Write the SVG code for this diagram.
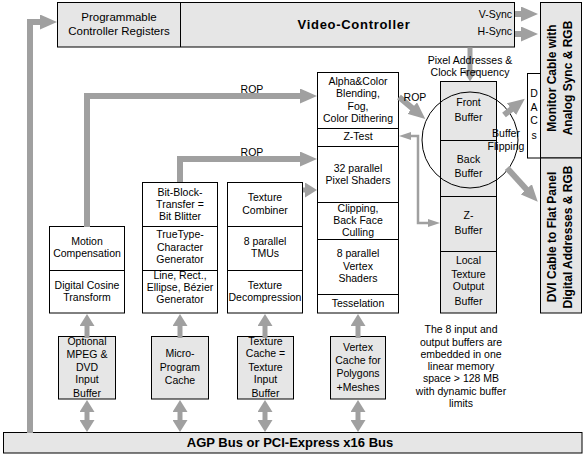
<svg xmlns="http://www.w3.org/2000/svg" width="584" height="456" viewBox="0 0 584 456">
<style>
.box{fill:#fff;stroke:#000;stroke-width:1}
.gbox{fill:#e6e6e6;stroke:#000;stroke-width:1}
.dv{stroke:#000;stroke-width:1;fill:none}
.t{font-family:"Liberation Sans",Arial,sans-serif;font-size:10.5px;text-anchor:middle;fill:#000}
.tl{font-family:"Liberation Sans",Arial,sans-serif;font-size:11.5px;text-anchor:middle;fill:#000}
.tr{font-family:"Liberation Sans",Arial,sans-serif;font-size:10.5px;text-anchor:end;fill:#000}
.b13{font-family:"Liberation Sans",Arial,sans-serif;font-size:13px;font-weight:bold;text-anchor:middle;fill:#000}
.rot{font-family:"Liberation Sans",Arial,sans-serif;font-size:12px;font-weight:bold;text-anchor:middle;fill:#000}
.a6{fill:none;stroke:#a0a0a0;stroke-width:6}
.a5{fill:none;stroke:#a0a0a0;stroke-width:5}
.a2{fill:none;stroke:#a0a0a0;stroke-width:2.5}
</style>
<defs>
<marker id="hh" markerUnits="userSpaceOnUse" markerWidth="17" markerHeight="15" viewBox="0 0 17 15" refX="1" refY="7.5" orient="auto-start-reverse"><path d="M0,0L17,7.5L0,15z" fill="#a0a0a0"/></marker>
<marker id="hv" markerUnits="userSpaceOnUse" markerWidth="12" markerHeight="15" viewBox="0 0 12 15" refX="1" refY="7.5" orient="auto-start-reverse"><path d="M0,0L12,7.5L0,15z" fill="#a0a0a0"/></marker>
<marker id="hs" markerUnits="userSpaceOnUse" markerWidth="12" markerHeight="8" viewBox="0 0 12 8" refX="1" refY="4" orient="auto-start-reverse"><path d="M0,0L12,4L0,8z" fill="#a0a0a0"/></marker>
</defs>
<rect width="584" height="456" fill="#fff"/>

<g id="video-controller">
<rect class="gbox" x="57.5" y="2.5" width="457" height="44.5"/>
<line class="dv" x1="180.5" y1="2.5" x2="180.5" y2="47"/>
<text class="tl" x="119" y="21">Programmable</text>
<text class="tl" x="119" y="35">Controller Registers</text>
<text class="b13" x="354" y="29" style="letter-spacing:0.7px">Video-Controller</text>
<text class="tr" x="512" y="18">V-Sync</text>
<text class="tr" x="512" y="35">H-Sync</text>
</g>

<g id="monitor-cable">
<rect class="gbox" x="540.5" y="2.5" width="41" height="155.5"/>
<text class="rot" transform="translate(556,78) rotate(-90)">Monitor Cable with</text>
<text class="rot" transform="translate(572,78) rotate(-90)">Analog Sync &amp; RGB</text>
</g>

<g id="dvi-cable">
<rect class="gbox" x="540.5" y="158" width="41" height="155"/>
<text class="rot" transform="translate(556,237) rotate(-90)">DVI Cable to Flat Panel</text>
<text class="rot" transform="translate(572,237) rotate(-90)">Digital Addresses &amp; RGB</text>
</g>

<g id="dacs">
<rect class="box" x="527.5" y="73.5" width="13" height="84.5"/>
<text class="t" x="534" y="97">D</text>
<text class="t" x="534" y="111">A</text>
<text class="t" x="534" y="124">C</text>
<text class="t" x="534" y="139">s</text>
</g>

<g id="memory">
<rect class="gbox" x="440.5" y="81.5" width="56" height="231.5"/>
<line class="dv" x1="440.5" y1="140.5" x2="496.5" y2="140.5"/>
<line class="dv" x1="440.5" y1="196.5" x2="496.5" y2="196.5"/>
<line class="dv" x1="440.5" y1="251.5" x2="496.5" y2="251.5"/>
<text class="t" x="468.5" y="106">Front</text>
<text class="t" x="468.5" y="121">Buffer</text>
<text class="t" x="468.5" y="163">Back</text>
<text class="t" x="468.5" y="177">Buffer</text>
<text class="t" x="468.5" y="219">Z-</text>
<text class="t" x="468.5" y="234">Buffer</text>
<text class="t" x="468.5" y="264">Local</text>
<text class="t" x="468.5" y="278">Texture</text>
<text class="t" x="468.5" y="290">Output</text>
<text class="t" x="468.5" y="305">Buffer</text>
</g>

<g id="buffer-flipping">
<circle cx="470" cy="140" r="48" fill="none" stroke="#000" stroke-width="1"/>
<text class="t" x="506" y="137">Buffer</text>
<text class="t" x="506" y="150">Flipping</text>
</g>

<g id="pixel-pipeline">
<rect class="box" x="317.5" y="72.5" width="81" height="240.5"/>
<line class="dv" x1="317.5" y1="128.5" x2="398.5" y2="128.5"/>
<line class="dv" x1="317.5" y1="146.5" x2="398.5" y2="146.5"/>
<line class="dv" x1="317.5" y1="202.5" x2="398.5" y2="202.5"/>
<line class="dv" x1="317.5" y1="239.5" x2="398.5" y2="239.5"/>
<line class="dv" x1="317.5" y1="294.5" x2="398.5" y2="294.5"/>
<text class="t" x="358" y="85">Alpha&amp;Color</text>
<text class="t" x="358" y="97">Blending,</text>
<text class="t" x="358" y="110">Fog,</text>
<text class="t" x="358" y="122">Color Dithering</text>
<text class="t" x="358" y="140">Z-Test</text>
<text class="t" x="358" y="172">32 parallel</text>
<text class="t" x="358" y="184">Pixel Shaders</text>
<text class="t" x="358" y="212">Clipping,</text>
<text class="t" x="358" y="224">Back Face</text>
<text class="t" x="358" y="236">Culling</text>
<text class="t" x="358" y="257">8 parallel</text>
<text class="t" x="358" y="270">Vertex</text>
<text class="t" x="358" y="282">Shaders</text>
<text class="t" x="358" y="307">Tesselation</text>
</g>

<g id="texture-unit">
<rect class="box" x="227.5" y="182.5" width="75" height="130.5"/>
<line class="dv" x1="227.5" y1="226.5" x2="302.5" y2="226.5"/>
<line class="dv" x1="227.5" y1="270.5" x2="302.5" y2="270.5"/>
<text class="t" x="265" y="201">Texture</text>
<text class="t" x="265" y="214">Combiner</text>
<text class="t" x="265" y="245">8 parallel</text>
<text class="t" x="265" y="257">TMUs</text>
<text class="t" x="265" y="289">Texture</text>
<text class="t" x="265" y="301">Decompression</text>
</g>

<g id="2d-unit">
<rect class="box" x="142.5" y="182.5" width="75" height="130.5"/>
<line class="dv" x1="142.5" y1="226.5" x2="217.5" y2="226.5"/>
<line class="dv" x1="142.5" y1="270.5" x2="217.5" y2="270.5"/>
<text class="t" x="180" y="196">Bit-Block-</text>
<text class="t" x="180" y="208">Transfer =</text>
<text class="t" x="180" y="220">Bit Blitter</text>
<text class="t" x="180" y="238">TrueType-</text>
<text class="t" x="180" y="251">Character</text>
<text class="t" x="180" y="263">Generator</text>
<text class="t" x="180" y="279">Line, Rect.,</text>
<text class="t" x="180" y="291">Ellipse, Bézier</text>
<text class="t" x="180" y="303">Generator</text>
</g>

<g id="video-unit">
<rect class="box" x="49.5" y="226.5" width="75" height="86.5"/>
<line class="dv" x1="49.5" y1="270.5" x2="124.5" y2="270.5"/>
<text class="t" x="87" y="245">Motion</text>
<text class="t" x="87" y="257">Compensation</text>
<text class="t" x="87" y="289">Digital Cosine</text>
<text class="t" x="87" y="301">Transform</text>
</g>

<g id="mpeg-buffer">
<rect class="gbox" x="58.5" y="336.5" width="57" height="62.5"/>
<text class="t" x="87" y="345">Optional</text>
<text class="t" x="87" y="358">MPEG &amp;</text>
<text class="t" x="87" y="371">DVD</text>
<text class="t" x="87" y="383">Input</text>
<text class="t" x="87" y="397">Buffer</text>
</g>

<g id="microprogram-cache">
<rect class="gbox" x="151.5" y="336.5" width="57" height="62.5"/>
<text class="t" x="180" y="357">Micro-</text>
<text class="t" x="180" y="371">Program</text>
<text class="t" x="180" y="384">Cache</text>
</g>

<g id="texture-cache">
<rect class="gbox" x="237.5" y="336.5" width="56" height="62.5"/>
<text class="t" x="265.5" y="345">Texture</text>
<text class="t" x="265.5" y="357">Cache =</text>
<text class="t" x="265.5" y="371">Texture</text>
<text class="t" x="265.5" y="383">Input</text>
<text class="t" x="265.5" y="397">Buffer</text>
</g>

<g id="vertex-cache">
<rect class="gbox" x="330.5" y="336.5" width="55" height="62.5"/>
<text class="t" x="358" y="351">Vertex</text>
<text class="t" x="358" y="364">Cache for</text>
<text class="t" x="358" y="377">Polygons</text>
<text class="t" x="358" y="391">+Meshes</text>
</g>

<g id="bus">
<rect class="gbox" x="3.5" y="432.5" width="578.5" height="20.5"/>
<text class="b13" x="290" y="447">AGP Bus or PCI-Express x16 Bus</text>
</g>

<g id="note">
<text class="t" x="461" y="333">The 8 input and</text>
<text class="t" x="461" y="345.5">output buffers are</text>
<text class="t" x="461" y="357.5">embedded in one</text>
<text class="t" x="461" y="369.5">linear memory</text>
<text class="t" x="461" y="382">space &gt; 128 MB</text>
<text class="t" x="461" y="394.5">with dynamic buffer</text>
<text class="t" x="461" y="407">limits</text>
</g>

<g id="connectors">
<path class="a6" d="M30,433V22H41" marker-end="url(#hh)"/>
<path class="a6" d="M87,227V96H301" marker-end="url(#hh)"/>
<path class="a6" d="M180,182V159H301" marker-end="url(#hh)"/>
<path class="a5" d="M303,190H306" marker-end="url(#hv)"/>
<path class="a6" d="M399,97L413,108.7" marker-end="url(#hh)"/>
<path class="a5" d="M470,47.5V70.5" marker-end="url(#hv)"/>
<path class="a6" d="M515,14H522" marker-end="url(#hh)"/>
<path class="a6" d="M515,34H522" marker-end="url(#hh)"/>
<path class="a6" d="M504,115L512.2,108.6" marker-end="url(#hh)"/>
<path class="a6" d="M507,168L527,190" marker-end="url(#hh)"/>
<path class="a2" d="M410,136H418V223H429" marker-start="url(#hs)" marker-end="url(#hs)"/>
<path class="a5" d="M87,338V325" marker-end="url(#hv)"/>
<path class="a5" d="M180,338V325" marker-end="url(#hv)"/>
<path class="a5" d="M265,338V325" marker-end="url(#hv)"/>
<path class="a5" d="M358,338V325" marker-end="url(#hv)"/>
<path class="a5" d="M87,411V421" marker-start="url(#hv)" marker-end="url(#hv)"/>
<path class="a5" d="M180,411V421" marker-start="url(#hv)" marker-end="url(#hv)"/>
<path class="a5" d="M265,411V421" marker-start="url(#hv)" marker-end="url(#hv)"/>
<path class="a5" d="M358,411V421" marker-start="url(#hv)" marker-end="url(#hv)"/>
<text class="t" x="252" y="93">ROP</text>
<text class="t" x="252" y="156">ROP</text>
<text class="t" x="415" y="101">ROP</text>
<text class="t" x="470" y="64">Pixel Addresses &amp;</text>
<text class="t" x="470" y="76">Clock Frequency</text>
</g>
</svg>
